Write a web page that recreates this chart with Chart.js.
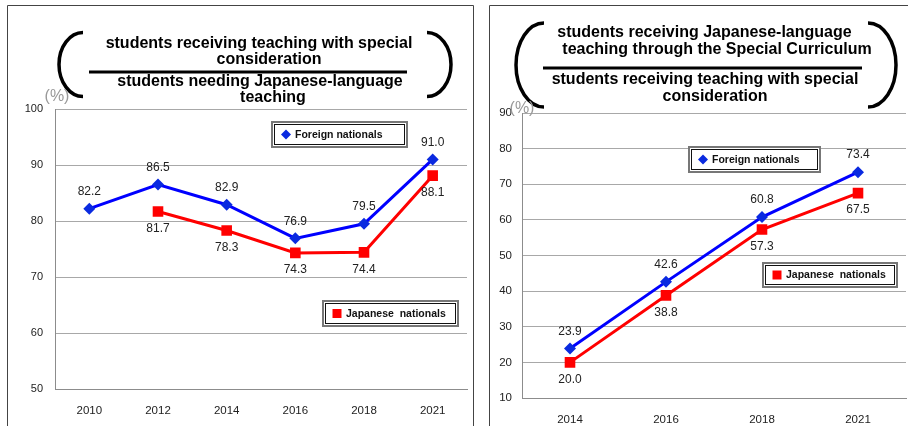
<!DOCTYPE html>
<html>
<head>
<meta charset="utf-8">
<script src="https://cdn.jsdelivr.net/npm/chart.js@4.4.0/dist/chart.umd.min.js"></script>
<style>
  html, body { margin: 0; padding: 0; background: #fff; }
  body { width: 908px; height: 426px; position: relative; overflow: hidden; }
  canvas { position: absolute; top: 0; }
  #c1 { left: 0; }
  #c2 { left: 475px; }
</style>
</head>
<body>
<canvas id="c1" width="475" height="426"></canvas>
<canvas id="c2" width="445" height="426"></canvas>
<script>
// left chart: share of students needing Japanese-language teaching who get special consideration
const yearsA = ['2010', '2012', '2014', '2016', '2018', '2021'];
const foreignA = [82.2, 86.5, 82.9, 76.9, 79.5, 91.0];
const japaneseA = [null, 81.7, 78.3, 74.3, 74.4, 88.1];
const ticksA = [50, 60, 70, 80, 90, 100];

// right chart: share taught through the Special Curriculum
const yearsB = ['2014', '2016', '2018', '2021'];
const foreignB = [23.9, 42.6, 60.8, 73.4];
const japaneseB = [20.0, 38.8, 57.3, 67.5];
const ticksB = [10, 20, 30, 40, 50, 60, 70, 80, 90];

const seriesNames = ['Foreign nationals', 'Japanese  nationals'];

const titleA = {
  top: ['students receiving teaching with special', 'consideration'],
  bottom: ['students needing Japanese-language', 'teaching']
};
const titleB = {
  top: ['students receiving Japanese-language', 'teaching through the Special Curriculum'],
  bottom: ['students receiving teaching with special', 'consideration']
};

const BLUE = '#0000ff';
const BLUE_MARK = '#0a2ae0';
const RED = '#ff0000';
const FONT = '"Liberation Sans", Arial, sans-serif';

function drawMarker(ctx, style, x, y, color) {
  ctx.fillStyle = color;
  ctx.beginPath();
  if (style === 'rectRot') {
    ctx.moveTo(x, y - 5); ctx.lineTo(x + 5, y); ctx.lineTo(x, y + 5); ctx.lineTo(x - 5, y);
  } else {
    ctx.rect(x - 4.5, y - 4.5, 9, 9);
  }
  ctx.closePath();
  ctx.fill();
}

function legendBox(ctx, box, text, style, color) {
  const { x, y, w, h } = box;
  ctx.fillStyle = '#fff';
  ctx.fillRect(x, y, w, h);
  ctx.strokeStyle = '#777';
  ctx.lineWidth = 2;
  ctx.strokeRect(x + 1, y + 1, w - 2, h - 2);
  ctx.strokeStyle = '#111';
  ctx.lineWidth = 1;
  ctx.strokeRect(x + 3.5, y + 3.5, w - 7, h - 7);
  drawMarker(ctx, style, x + 15, y + h / 2, color);
  ctx.fillStyle = '#111';
  ctx.font = 'bold 10.5px ' + FONT;
  ctx.textAlign = 'left';
  ctx.textBaseline = 'middle';
  ctx.fillText(text, x + 24, y + h / 2 + 0.5);
}

// frame, bracketed fraction title, unit label and the two legend boxes
function decorPlugin(cfg) {
  return {
    id: 'decor',
    beforeDraw(chart) {
      const ctx = chart.ctx;
      ctx.save();
      ctx.strokeStyle = '#444';
      ctx.lineWidth = 1;
      ctx.beginPath();
      cfg.frame.forEach(([x1, y1, x2, y2]) => { ctx.moveTo(x1, y1); ctx.lineTo(x2, y2); });
      ctx.stroke();
      ctx.restore();
    },
    afterDraw(chart) {
      const ctx = chart.ctx;
      const t = cfg.title;
      ctx.save();
      ctx.fillStyle = '#000';
      ctx.font = 'bold 16px ' + FONT;
      ctx.textAlign = 'center';
      ctx.textBaseline = 'middle';
      t.text.top.forEach((s, i) => ctx.fillText(s, t.cx[i], t.y[i]));
      t.text.bottom.forEach((s, i) => ctx.fillText(s, t.cx[i + 2], t.y[i + 2]));
      // fraction bar
      ctx.fillRect(t.bar[0], t.bar[2] - 1.5, t.bar[1] - t.bar[0], 3);
      // brackets
      ctx.strokeStyle = '#000';
      ctx.lineWidth = 3.5;
      const p = t.paren;
      ctx.beginPath();
      ctx.ellipse(p.l + p.rx, p.cy, p.rx, p.ry, 0, Math.PI / 2, Math.PI * 1.5);
      ctx.stroke();
      ctx.beginPath();
      ctx.ellipse(p.r - p.rx, p.cy, p.rx, p.ry, 0, -Math.PI / 2, Math.PI / 2);
      ctx.stroke();
      // unit
      ctx.fillStyle = '#999';
      ctx.font = '16px ' + FONT;
      ctx.fillText('(%)', cfg.unit[0], cfg.unit[1]);
      legendBox(ctx, cfg.legend[0], seriesNames[0], 'rectRot', BLUE_MARK);
      legendBox(ctx, cfg.legend[1], seriesNames[1], 'rect', RED);
      ctx.restore();
    }
  };
}

// value labels above the blue points and below the red ones
const valueLabels = {
  id: 'valueLabels',
  afterDatasetsDraw(chart) {
    const ctx = chart.ctx;
    ctx.save();
    ctx.fillStyle = '#222';
    ctx.font = '12px ' + FONT;
    ctx.textAlign = 'center';
    ctx.textBaseline = 'middle';
    chart.data.datasets.forEach((ds, i) => {
      chart.getDatasetMeta(i).data.forEach((pt, j) => {
        const v = ds.data[j];
        if (v === null || v === undefined) return;
        ctx.fillText(v.toFixed(1), pt.x, pt.y + ds.labelOffset);
      });
    });
    ctx.restore();
  }
};

function makeChart(id, years, foreign, japanese, ticks, opts) {
  return new Chart(document.getElementById(id), {
    type: 'line',
    data: {
      labels: years,
      datasets: [
        {
          label: seriesNames[0], data: foreign, labelOffset: -17,
          borderColor: BLUE, backgroundColor: BLUE_MARK, borderWidth: 3,
          pointStyle: 'rectRot', pointRadius: 6, pointHoverRadius: 6,
          pointBorderWidth: 0, tension: 0
        },
        {
          label: seriesNames[1], data: japanese, labelOffset: 17,
          borderColor: RED, backgroundColor: RED, borderWidth: 3,
          pointStyle: 'rect', pointRadius: 7.5, pointHoverRadius: 7.5,
          pointBorderWidth: 0, tension: 0
        }
      ]
    },
    options: {
      responsive: false,
      animation: false,
      layout: { padding: opts.padding },
      plugins: { legend: { display: false }, tooltip: { enabled: false } },
      scales: {
        x: {
          offset: true,
          grid: { display: false },
          border: { display: true, color: '#8c8c8c', width: 1 },
          ticks: { color: '#222', font: { family: FONT, size: 11.5 }, padding: opts.xPad, maxRotation: 0 },
          afterFit(s) { s.height = opts.xHeight; }
        },
        y: {
          min: ticks[0], max: ticks[ticks.length - 1],
          afterBuildTicks(s) { s.ticks = ticks.map(v => ({ value: v })); },
          grid: { color: '#a8a8a8', lineWidth: 1, drawTicks: false },
          border: { display: true, color: '#8c8c8c', width: 1 },
          ticks: { color: '#222', font: { family: FONT, size: opts.ySize }, padding: opts.yPad },
          afterFit(s) { s.width = opts.yWidth; }
        }
      }
    },
    plugins: [valueLabels, decorPlugin(opts.decor)]
  });
}

makeChart('c1', yearsA, foreignA, japaneseA, ticksA, {
  padding: { left: 7, top: 109, right: 8, bottom: 7 },
  yWidth: 48, xHeight: 30, xPad: 7, yPad: 12, ySize: 11,
  decor: {
    frame: [[7.5, 5.5, 473.5, 5.5], [7.5, 5.5, 7.5, 426], [473.5, 5.5, 473.5, 426]],
    title: {
      text: titleA,
      cx: [259, 269, 260, 273],
      y: [44, 60, 82, 98],
      bar: [89, 407, 72],
      paren: { l: 59, r: 451, cy: 64.5, rx: 24, ry: 32 }
    },
    unit: [57, 97],
    legend: [{ x: 271, y: 121, w: 137, h: 27 }, { x: 322, y: 300, w: 137, h: 27 }]
  }
});

// this canvas runs past the window's right edge so the plot reaches it
makeChart('c2', yearsB, foreignB, japaneseB, ticksB, {
  padding: { left: 14, top: 113, right: 14, bottom: 0 },
  yWidth: 33, xHeight: 28, xPad: 7, yPad: 10, ySize: 11.5,
  decor: {
    frame: [[14.5, 5.5, 445, 5.5], [14.5, 5.5, 14.5, 426]],
    title: {
      text: titleB,
      cx: [229.5, 242, 230, 240],
      y: [33, 50, 80, 97],
      bar: [68, 387, 68],
      paren: { l: 41, r: 421, cy: 65, rx: 28, ry: 42 }
    },
    unit: [47, 109],
    legend: [{ x: 213, y: 146, w: 133, h: 27 }, { x: 287, y: 262, w: 136, h: 26 }]
  }
});
</script>
</body>
</html>
